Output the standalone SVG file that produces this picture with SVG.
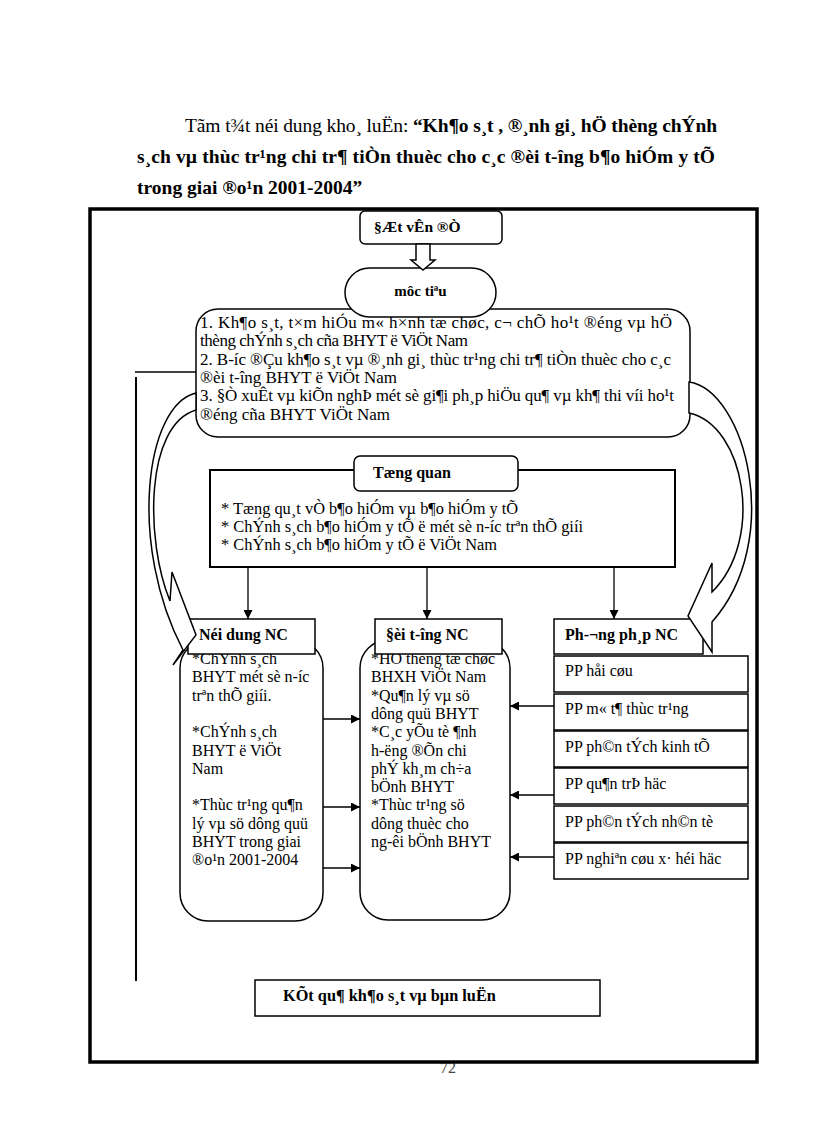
<svg xmlns="http://www.w3.org/2000/svg" width="816" height="1123" viewBox="0 0 816 1123">
<defs>
<style>
.t{font-family:"Liberation Serif","Times New Roman",serif;font-size:16px;fill:#000}
.b{font-weight:bold}
.ttl{font-size:19.5px}
.obj{font-size:17px}
.tq{font-size:16.4px}
.box{fill:#fff;stroke:#000;stroke-width:1.5}
.ln{stroke:#000;stroke-width:1.3;fill:none}
.blk{fill:#fff;stroke:#000;stroke-width:1.5;stroke-linejoin:miter}
</style>
<marker id="ah" viewBox="0 0 10 10" refX="10" refY="5" markerWidth="9" markerHeight="9" markerUnits="userSpaceOnUse" orient="auto"><path d="M0,0 L10,5 L0,10 z" fill="#000"/></marker>
</defs>
<rect width="816" height="1123" fill="#fff"/>
<text class="t" x="440" y="1073" style="fill:#444">72</text>
<rect id="frame" x="90" y="209" width="667" height="853" fill="none" stroke="#000" stroke-width="3.5"/>

<g id="title">
<text class="t ttl" x="185" y="132" textLength="532" lengthAdjust="spacing">Tãm t¾t néi dung kho¸ luËn: <tspan class="b">“Kh¶o s¸t , ®¸nh gi¸ hÖ thèng chÝnh</tspan></text>
<text class="t ttl b" x="137" y="163" textLength="578" lengthAdjust="spacing">s¸ch vµ thùc tr¹ng chi tr¶ tiÒn thuèc cho c¸c ®èi t-îng b¶o hiÓm y tÕ</text>
<text class="t ttl b" x="137" y="194">trong giai ®o¹n 2001-2004”</text>
</g>

<g id="n-datvande">
<rect class="box" x="360" y="211" width="142" height="33" rx="5"/>
<text class="t b" x="374" y="232" style="font-size:15.5px">§Æt vÊn ®Ò</text>
</g>

<g id="n-muctieu-list">
<rect class="box" x="196" y="309" width="494" height="128" rx="22"/>
<text class="t obj" x="200" y="328" textLength="472" lengthAdjust="spacing">1. Kh¶o s¸t, t×m hiÓu m« h×nh tæ chøc, c¬ chÕ ho¹t ®éng vµ hÖ</text>
<text class="t obj" x="200" y="346.3" textLength="268" lengthAdjust="spacing">thèng chÝnh s¸ch cña BHYT ë ViÖt Nam</text>
<text class="t obj" x="200" y="364.6" textLength="471" lengthAdjust="spacing">2. B-íc ®Çu kh¶o s¸t vµ ®¸nh gi¸ thùc tr¹ng chi tr¶ tiÒn thuèc cho c¸c</text>
<text class="t obj" x="200" y="382.9" textLength="197" lengthAdjust="spacing">®èi t-îng BHYT ë ViÖt Nam</text>
<text class="t obj" x="200" y="401.2" textLength="474" lengthAdjust="spacing">3. §Ò xuÊt vµ kiÕn nghÞ mét sè gi¶i ph¸p hiÖu qu¶ vµ kh¶ thi víi ho¹t</text>
<text class="t obj" x="200" y="419.5" textLength="190" lengthAdjust="spacing">®éng cña BHYT ViÖt Nam</text>
</g>

<g id="n-muctieu">
<rect class="box" x="345" y="268" width="151" height="49" rx="24.5"/>
<text class="t b" x="420.5" y="296" text-anchor="middle" style="font-size:15px">môc tiªu</text>
</g>

<g id="n-tongquan">
<rect x="210" y="470" width="465" height="97" fill="#fff" stroke="#000" stroke-width="2"/>
<text class="t tq" x="221" y="514">* Tæng qu¸t vÒ b¶o hiÓm vµ b¶o hiÓm y tÕ</text>
<text class="t tq" x="221" y="532">* ChÝnh s¸ch b¶o hiÓm y tÕ ë mét sè n-íc trªn thÕ giíi</text>
<text class="t tq" x="221" y="550">* ChÝnh s¸ch b¶o hiÓm y tÕ ë ViÖt Nam</text>
<rect class="box" x="354" y="456" width="164" height="35" rx="6"/>
<text class="t b" x="373" y="478">Tæng quan</text>
</g>

<g id="n-noidung">
<rect class="box" x="180" y="640" width="143" height="281" rx="28"/>
<text class="t" x="192" y="664">*ChÝnh s¸ch</text>
<text class="t" x="192" y="682.3">BHYT mét sè n-íc</text>
<text class="t" x="192" y="700.6">trªn thÕ giíi.</text>
<text class="t" x="192" y="737.2">*ChÝnh s¸ch</text>
<text class="t" x="192" y="755.5">BHYT ë ViÖt</text>
<text class="t" x="192" y="773.8">Nam</text>
<text class="t" x="192" y="810.4">*Thùc tr¹ng qu¶n</text>
<text class="t" x="192" y="828.7">lý vµ sö dông quü</text>
<text class="t" x="192" y="847">BHYT trong giai</text>
<text class="t" x="192" y="865.3">®o¹n 2001-2004</text>
<rect class="box" x="188" y="619" width="127" height="35"/>
<text class="t b" x="199" y="640">Néi dung NC</text>
</g>

<g id="n-doituong">
<rect class="box" x="360" y="640" width="150" height="280" rx="28"/>
<text class="t" x="371" y="664">*HÖ thèng tæ chøc</text>
<text class="t" x="371" y="682.3">BHXH ViÖt Nam</text>
<text class="t" x="371" y="700.6">*Qu¶n lý vµ sö</text>
<text class="t" x="371" y="718.9">dông quü BHYT</text>
<text class="t" x="371" y="737.2">*C¸c yÕu tè ¶nh</text>
<text class="t" x="371" y="755.5">h-ëng ®Õn chi</text>
<text class="t" x="371" y="773.8">phÝ kh¸m ch÷a</text>
<text class="t" x="371" y="792.1">bÖnh BHYT</text>
<text class="t" x="371" y="810.4">*Thùc tr¹ng sö</text>
<text class="t" x="371" y="828.7">dông thuèc cho</text>
<text class="t" x="371" y="847">ng-êi bÖnh BHYT</text>
<rect class="box" x="375" y="619" width="127" height="35"/>
<text class="t b" x="386" y="640">§èi t-îng NC</text>
</g>

<g id="n-phuongphap">
<rect class="box" x="554" y="619" width="149" height="35"/>
<text class="t b" x="565" y="640">Ph-¬ng ph¸p NC</text>
<rect class="box" x="554" y="656" width="194" height="36"/>
<text class="t" x="565" y="676">PP håi cøu</text>
<rect class="box" x="554" y="694" width="194" height="36"/>
<text class="t" x="565" y="714">PP m« t¶ thùc tr¹ng</text>
<rect class="box" x="554" y="731" width="194" height="36"/>
<text class="t" x="565" y="752">PP ph©n tÝch kinh tÕ</text>
<rect class="box" x="554" y="768" width="194" height="36"/>
<text class="t" x="565" y="789">PP qu¶n trÞ häc</text>
<rect class="box" x="554" y="806" width="194" height="36"/>
<text class="t" x="565" y="827">PP ph©n tÝch nh©n tè</text>
<rect class="box" x="554" y="843" width="194" height="36"/>
<text class="t" x="565" y="864">PP nghiªn cøu x· héi häc</text>
</g>

<g id="n-ketqua">
<rect class="box" x="255" y="980" width="345" height="36"/>
<text class="t b" x="283" y="1001" style="font-size:16.3px">KÕt qu¶ kh¶o s¸t vµ bµn luËn</text>
</g>

<g id="connectors">
<path class="blk" d="M416,244 L430,244 L430,260 L435,260 L423,270 L411,260 L416,260 Z"/>
<line class="ln" x1="248" y1="567" x2="248" y2="619" marker-end="url(#ah)"/>
<line class="ln" x1="427" y1="567" x2="427" y2="619" marker-end="url(#ah)"/>
<line class="ln" x1="614" y1="567" x2="614" y2="619" marker-end="url(#ah)"/>
<line class="ln" x1="323" y1="719" x2="360" y2="719" marker-end="url(#ah)"/>
<line class="ln" x1="323" y1="807" x2="360" y2="807" marker-end="url(#ah)"/>
<line class="ln" x1="323" y1="868" x2="360" y2="868" marker-end="url(#ah)"/>
<line class="ln" x1="554" y1="706" x2="510" y2="706" marker-end="url(#ah)"/>
<line class="ln" x1="554" y1="795" x2="510" y2="795" marker-end="url(#ah)"/>
<line class="ln" x1="554" y1="857" x2="510" y2="857" marker-end="url(#ah)"/>
<path class="blk" d="M196,393 C145,405 128,545 183,650 L173,665 L196,635 L172,572 L170,601 C145,540 145,425 196,410 Z"/>
<path class="blk" d="M689,382 C745,390 785,540 712,622 L712,652 L688,616 L712,563 L712,592 C765,540 745,425 689,413 Z"/>
<line class="ln" x1="135" y1="372" x2="196" y2="372"/>
<line x1="136" y1="377" x2="136" y2="981" stroke="#000" stroke-width="2"/>
</g>
</svg>
